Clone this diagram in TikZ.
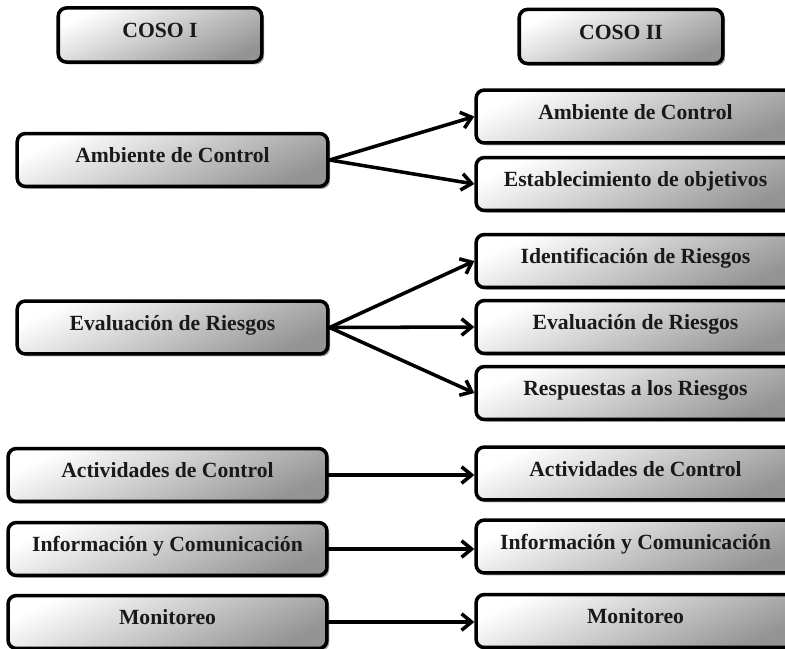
\documentclass[tikz,border=0pt]{standalone}
\usepackage{fontspec}
\setmainfont{Liberation Serif}
\usetikzlibrary{arrows.meta,shadows}

\tikzset{
  cbox/.style={draw=black, line width=3pt, rounded corners=7pt,
    top color=white, middle color=black!10, bottom color=black!42, shading angle=25,
    drop shadow={shadow xshift=2pt, shadow yshift=-2pt, opacity=.35, fill=black},
    minimum height=45pt, inner sep=0pt, text height=13pt, text depth=8pt,
    font=\fontsize{18.4}{22}\selectfont\bfseries, text=black!90},
  headbox/.style={cbox, minimum width=173pt, minimum height=46pt},
  midbox/.style={cbox, minimum width=264pt},
  widebox/.style={cbox, minimum width=271pt},
  conn/.style={line width=3pt, line cap=round,
    -{Straight Barb[length=8.5pt,width=14pt,line width=3pt]}}
}

\begin{document}
\begin{tikzpicture}[x=0.85pt, y=-0.85pt]
  \useasboundingbox (0,0) rectangle (785,648);

  % column headings
  \node[headbox] (c1) at (160,35)   {COSO I};
  \node[headbox] (c2) at (621,36.5) {COSO II};

  % COSO I components
  \node[midbox]  (l1) at (172.5,160)   {Ambiente de Control};
  \node[midbox]  (l2) at (172.5,327.5) {Evaluación de Riesgos};
  \node[widebox] (l3) at (167.5,475)   {Actividades de Control};
  \node[widebox] (l4) at (167.5,549)   {Información y Comunicación};
  \node[widebox] (l5) at (167.5,622)   {Monitoreo};

  % COSO II components
  \node[widebox] (r1) at (635.5,116.5) {Ambiente de Control};
  \node[widebox] (r2) at (635.5,184)   {Establecimiento de objetivos};
  \node[widebox] (r3) at (635.5,261)   {Identificación de Riesgos};
  \node[widebox] (r4) at (635.5,327)   {Evaluación de Riesgos};
  \node[widebox] (r5) at (635.5,393)   {Respuestas a los Riesgos};
  \node[widebox] (r6) at (635.5,473.5) {Actividades de Control};
  \node[widebox] (r7) at (635.5,546.5) {Información y Comunicación};
  \node[widebox] (r8) at (635.5,621)   {Monitoreo};

  % correspondences
  \draw[conn] (l1.east) -- (r1.west);
  \draw[conn] (l1.east) -- (r2.west);
  \draw[conn] (l2.east) -- (r3.west);
  \draw[conn] (l2.east) -- (r4.west);
  \draw[conn] (l2.east) -- (r5.west);
  \draw[conn] (l3.east) -- (l3.east -| r6.west);
  \draw[conn] (l4.east) -- (l4.east -| r7.west);
  \draw[conn] (l5.east) -- (l5.east -| r8.west);
\end{tikzpicture}
\end{document}
